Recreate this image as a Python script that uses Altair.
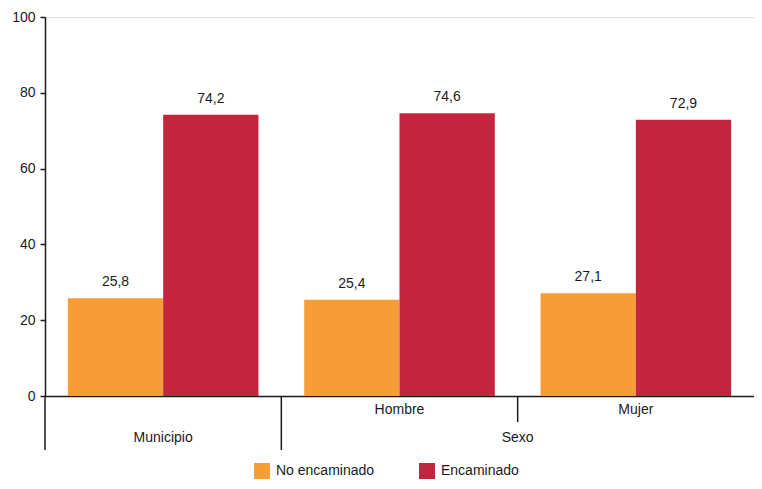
import altair as alt
import pandas as pd

categorias = ["Municipio", "Hombre", "Mujer"]
series = ["No encaminado", "Encaminado"]
no_encaminado = [25.8, 25.4, 27.1]
encaminado = [74.2, 74.6, 72.9]
y_ticks = [0, 20, 40, 60, 80, 100]
subgrupo_labels = ["Hombre", "Mujer"]
grupo_labels = ["Municipio"]
sexo_label = ["Sexo"]

colores = ["#F79D38", "#C4253E"]
ink = "#1a1a1a"
FONT = "Liberation Sans"
FS = 14

rows = []
for i, c in enumerate(categorias):
    rows.append({"categoria": c, "serie": series[0], "valor": no_encaminado[i]})
    rows.append({"categoria": c, "serie": series[1], "valor": encaminado[i]})
df = pd.DataFrame(rows)

W, H = 709, 379

x_enc = alt.X(
    "categoria:N",
    sort=categorias,
    scale=alt.Scale(domain=categorias, paddingInner=0, paddingOuter=0),
    axis=alt.Axis(labels=False, ticks=False, title=None, domainColor=ink,
                  domainWidth=1.5, grid=False),
)
xoff = alt.XOffset("serie:N", sort=series,
                   scale=alt.Scale(domain=series, paddingInner=0, paddingOuter=0.24))
y_enc = alt.Y(
    "valor:Q",
    scale=alt.Scale(domain=[0, 100], nice=False),
    axis=alt.Axis(values=y_ticks, title=None, grid=False, domainColor=ink,
                  domainWidth=1.5, tickColor=ink, tickSize=5, tickWidth=1.5,
                  labelFontSize=FS, labelColor=ink, labelPadding=5, labelFont=FONT),
)

bars = alt.Chart(df).mark_bar(stroke=None).encode(
    x=x_enc,
    xOffset=xoff,
    y=y_enc,
    color=alt.Color(
        "serie:N", sort=series,
        scale=alt.Scale(domain=series, range=colores),
        legend=alt.Legend(
            title=None, orient="none", legendX=209, legendY=446,
            direction="horizontal", symbolType="square", symbolSize=256,
            symbolStrokeWidth=0, labelFontSize=FS, labelColor=ink, labelFont=FONT,
            columnPadding=44, labelOffset=6, padding=0,
        ),
    ),
)

values_txt = alt.Chart(df).transform_calculate(
    etiqueta="replace(format(datum.valor, '.1f'), '.', ',')"
).mark_text(baseline="bottom", dy=-9, fontSize=FS, color=ink, font=FONT).encode(
    x=alt.X("categoria:N", sort=categorias),
    xOffset=alt.XOffset("serie:N", sort=series),
    y="valor:Q",
    text="etiqueta:N",
)

sub_df = pd.DataFrame({"categoria": subgrupo_labels})
sub_txt = alt.Chart(sub_df).mark_text(baseline="middle", fontSize=FS, color=ink, font=FONT).encode(
    x=alt.X("categoria:N", sort=categorias),
    y=alt.value(H + 14),
    text="categoria:N",
)

grp_df = pd.DataFrame({"categoria": grupo_labels})
grp_txt = alt.Chart(grp_df).mark_text(baseline="middle", fontSize=FS, color=ink, font=FONT).encode(
    x=alt.X("categoria:N", sort=categorias),
    y=alt.value(H + 42),
    text="categoria:N",
)

sexo_df = pd.DataFrame({"categoria": ["Mujer"], "label": sexo_label})
sexo_txt = alt.Chart(sexo_df).mark_text(baseline="middle", fontSize=FS, color=ink, font=FONT).encode(
    x=alt.X("categoria:N", sort=categorias, bandPosition=0),
    y=alt.value(H + 42),
    text="label:N",
)

long_sep = alt.Chart(pd.DataFrame({"categoria": ["Municipio", "Hombre"]})).mark_rule(
    color=ink, strokeWidth=1.5).encode(
    x=alt.X("categoria:N", sort=categorias, bandPosition=0),
    y=alt.value(H),
    y2=alt.value(H + 54),
)
short_sep = alt.Chart(pd.DataFrame({"categoria": ["Mujer"]})).mark_rule(
    color=ink, strokeWidth=1.5).encode(
    x=alt.X("categoria:N", sort=categorias, bandPosition=0),
    y=alt.value(H),
    y2=alt.value(H + 26),
)

chart = alt.layer(bars, values_txt, sub_txt, grp_txt, sexo_txt, long_sep, short_sep).properties(
    width=W, height=H,
    autosize=alt.AutoSizeParams(type="none"),
    padding={"left": 37, "top": 9, "right": 0, "bottom": 85},
).configure_view(stroke=None).configure(font=FONT)

chart.save("out.html", embed_options={"renderer": "svg", "actions": False})
